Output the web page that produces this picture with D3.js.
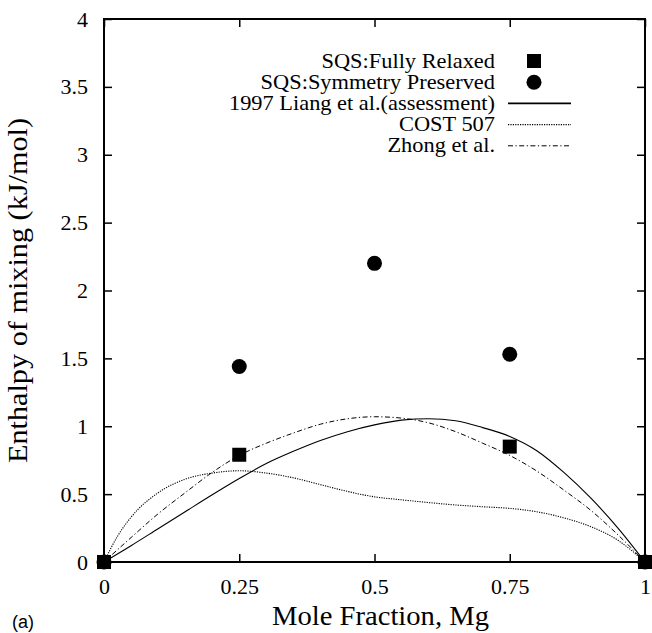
<!DOCTYPE html>
<html>
<head>
<meta charset="utf-8">
<script src="https://cdn.jsdelivr.net/npm/d3@7"></script>
<style>
  body { margin: 0; background: #fff; }
  svg { display: block; }
</style>
</head>
<body>
<div id="chart"></div>
<script>
// Mole fraction grid for the model curves
const molFrac = [0, 0.05, 0.1, 0.15, 0.2, 0.25, 0.3, 0.35, 0.4, 0.45, 0.5,
  0.55, 0.6, 0.65, 0.7, 0.75, 0.8, 0.85, 0.9, 0.95, 1];
const liang = [0, 0.12, 0.245, 0.37, 0.495, 0.615, 0.725, 0.815, 0.895, 0.96, 1.01,
  1.045, 1.055, 1.04, 0.99, 0.925, 0.82, 0.66, 0.47, 0.25, 0];
const zhong = [0, 0.18, 0.355, 0.51, 0.66, 0.785, 0.875, 0.95, 1.015, 1.055, 1.07,
  1.06, 1.025, 0.96, 0.875, 0.785, 0.67, 0.53, 0.38, 0.2, 0];
const costX = [0, 0.025, 0.05, 0.1, 0.15, 0.2, 0.25, 0.3, 0.35, 0.4, 0.45, 0.5,
  0.55, 0.6, 0.65, 0.7, 0.75, 0.8, 0.85, 0.9, 0.95, 1];
const cost507 = [0, 0.19, 0.33, 0.51, 0.61, 0.655, 0.672, 0.655, 0.62, 0.57, 0.52, 0.48,
  0.458, 0.438, 0.42, 0.407, 0.395, 0.37, 0.325, 0.26, 0.16, 0];

// SQS points
const sqsX = [0, 0.25, 0.5, 0.75, 1];
const relaxed = [0, 0.79, null, 0.85, 0];
const symmetry = [0, 1.44, 2.2, 1.53, 0];

const xTicks = [0, 0.25, 0.5, 0.75, 1];
const yTicks = [0, 0.5, 1, 1.5, 2, 2.5, 3, 3.5, 4];

const serif = "'Liberation Serif', 'DejaVu Serif', serif";
const width = 652, height = 633;
const margin = { top: 19, right: 7, bottom: 71, left: 104 };

const svg = d3.select("#chart").append("svg")
  .attr("width", width)
  .attr("height", height);

const x = d3.scaleLinear().domain([0, 1]).range([margin.left, width - margin.right]);
const y = d3.scaleLinear().domain([0, 4]).range([height - margin.bottom, margin.top]);

// Axes with inward ticks, mirrored on top/right
svg.append("g")
  .attr("transform", `translate(0,${y(0)})`)
  .call(d3.axisBottom(x).tickValues(xTicks).tickSize(-8).tickPadding(16).tickFormat(d => String(d)))
  .call(g => g.select(".domain").remove())
  .call(g => g.selectAll("line").attr("stroke-width", 1.5))
  .call(g => g.selectAll("text").style("font-family", serif).style("font-size", "22px"));

svg.append("g")
  .attr("transform", `translate(${x(0)},0)`)
  .call(d3.axisLeft(y).tickValues(yTicks).tickSize(-8).tickPadding(16).tickFormat(d => String(d)))
  .call(g => g.select(".domain").remove())
  .call(g => g.selectAll("line").attr("stroke-width", 1.5))
  .call(g => g.selectAll("text").style("font-family", serif).style("font-size", "22px"));

svg.append("g")
  .attr("transform", `translate(0,${y(4)})`)
  .call(d3.axisTop(x).tickValues(xTicks).tickSize(-8).tickFormat(""))
  .call(g => g.select(".domain").remove())
  .call(g => g.selectAll("line").attr("stroke-width", 1.5));

svg.append("g")
  .attr("transform", `translate(${x(1)},0)`)
  .call(d3.axisRight(y).tickValues(yTicks).tickSize(-8).tickFormat(""))
  .call(g => g.select(".domain").remove())
  .call(g => g.selectAll("line").attr("stroke-width", 1.5));

// Frame
svg.append("rect")
  .attr("x", x(0)).attr("y", y(4))
  .attr("width", x(1) - x(0)).attr("height", y(0) - y(4))
  .attr("fill", "none").attr("stroke", "#000").attr("stroke-width", 2);

// Curves
const line = d3.line().x(d => x(d[0])).y(d => y(d[1])).curve(d3.curveMonotoneX);
const curves = [
  { xs: molFrac, ys: liang, dash: null, w: 1.1 },
  { xs: costX, ys: cost507, dash: "1.2,1.2", w: 1.1 },
  { xs: molFrac, ys: zhong, dash: "5,2.5,1.2,2.5", w: 1 }
];
curves.forEach(c => {
  svg.append("path")
    .datum(c.xs.map((v, i) => [v, c.ys[i]]))
    .attr("d", line)
    .attr("fill", "none")
    .attr("stroke", "#000")
    .attr("stroke-width", c.w)
    .attr("stroke-dasharray", c.dash);
});

// Markers
const circPts = sqsX.map((v, i) => [v, symmetry[i]]).filter(d => d[1] !== null);
svg.selectAll("circle.sym")
  .data(circPts)
  .enter().append("circle")
  .attr("class", "sym")
  .attr("cx", d => x(d[0])).attr("cy", d => y(d[1]))
  .attr("r", 7.5).attr("fill", "#000");

const sqPts = sqsX.map((v, i) => [v, relaxed[i]]).filter(d => d[1] !== null);
svg.selectAll("rect.rel")
  .data(sqPts)
  .enter().append("rect")
  .attr("class", "rel")
  .attr("x", d => x(d[0]) - 7).attr("y", d => y(d[1]) - 7)
  .attr("width", 14).attr("height", 14).attr("fill", "#000");

// Legend
const legendItems = [
  { label: "SQS:Fully Relaxed", type: "square" },
  { label: "SQS:Symmetry Preserved", type: "circle" },
  { label: "1997 Liang et al.(assessment)", type: "line", dash: null, w: 1.6 },
  { label: "COST 507", type: "line", dash: "1.2,1.2", w: 1.1 },
  { label: "Zhong et al.", type: "line", dash: "5,2.5,1.2,2.5", w: 1 }
];
const leg = svg.append("g");
legendItems.forEach((d, i) => {
  const cy = 61 + i * 21.2;
  leg.append("text")
    .attr("transform", `translate(495,${cy + 6.5}) scale(1.12,1)`)
    .attr("text-anchor", "end")
    .style("font-family", serif)
    .style("font-size", "20px")
    .text(d.label);
  if (d.type === "square") {
    leg.append("rect").attr("x", 534 - 7).attr("y", cy - 7)
      .attr("width", 14).attr("height", 14).attr("fill", "#000");
  } else if (d.type === "circle") {
    leg.append("circle").attr("cx", 534).attr("cy", cy).attr("r", 7.5).attr("fill", "#000");
  } else {
    leg.append("line").attr("x1", 508).attr("x2", 571).attr("y1", cy).attr("y2", cy)
      .attr("stroke", "#000").attr("stroke-width", d.w).attr("stroke-dasharray", d.dash);
  }
});

// Axis labels
svg.append("text")
  .attr("transform", `translate(${(x(0) + x(1)) / 2 + 6},625) scale(1.06,1)`)
  .attr("text-anchor", "middle")
  .style("font-family", serif)
  .style("font-size", "27px")
  .text("Mole Fraction, Mg");

svg.append("text")
  .attr("transform", `translate(27,${(y(0) + y(4)) / 2}) rotate(-90) scale(1.12,1)`)
  .attr("text-anchor", "middle")
  .style("font-family", serif)
  .style("font-size", "27px")
  .text("Enthalpy of mixing (kJ/mol)");

svg.append("text")
  .attr("x", 12).attr("y", 628)
  .style("font-family", "'Liberation Sans', Arial, sans-serif")
  .style("font-size", "18px")
  .text("(a)");
</script>
</body>
</html>
